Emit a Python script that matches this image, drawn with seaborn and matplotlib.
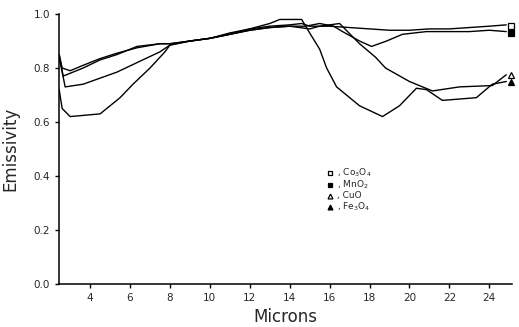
import numpy as np
import pandas as pd
import matplotlib
matplotlib.use("Agg")
import matplotlib.pyplot as plt
import seaborn as sns

# ---- data ----
co_x = [2.45, 2.6, 3.0, 3.65, 4.5, 5.35, 6.35, 7.5, 8, 9, 10, 11, 12, 13, 14, 14.6, 15, 16, 17, 18, 19, 20, 21, 22, 23, 24, 24.85]
co_y = [0.85, 0.80, 0.79, 0.81, 0.835, 0.855, 0.875, 0.89, 0.89, 0.90, 0.91, 0.93, 0.945, 0.955, 0.96, 0.965, 0.955, 0.955, 0.95, 0.945, 0.94, 0.94, 0.945, 0.945, 0.95, 0.955, 0.96]

mn_x = [2.45, 2.65, 3.65, 4.5, 5.35, 6.35, 7.5, 8, 9, 10, 11, 12, 13, 14, 14.8, 15.5, 16.2, 16.65, 17.5, 18.1, 18.85, 19.65, 20.85, 22, 23, 24, 24.85]
mn_y = [0.85, 0.77, 0.80, 0.83, 0.85, 0.88, 0.89, 0.89, 0.90, 0.91, 0.925, 0.94, 0.95, 0.955, 0.955, 0.965, 0.955, 0.935, 0.90, 0.88, 0.90, 0.925, 0.935, 0.935, 0.935, 0.94, 0.935]

cu_x = [2.45, 2.75, 3.65, 5.35, 6.35, 7.5, 8, 9, 10, 11, 12, 13, 14, 15, 15.5, 16.5, 17.5, 18.3, 18.8, 20, 21.15, 22.5, 24.15, 24.85]
cu_y = [0.84, 0.73, 0.74, 0.785, 0.82, 0.86, 0.885, 0.90, 0.91, 0.925, 0.94, 0.95, 0.955, 0.945, 0.955, 0.965, 0.89, 0.84, 0.80, 0.75, 0.715, 0.73, 0.735, 0.775]

fe_x = [2.45, 2.6, 3.0, 4.5, 5.5, 6.15, 7.0, 7.75, 8, 9, 10, 11, 12, 13, 13.5, 14.6, 15, 15.5, 15.85, 16.35, 17.5, 18.65, 19.5, 20.35, 20.85, 21.65, 23.35, 24.15, 24.85]
fe_y = [0.72, 0.65, 0.62, 0.63, 0.69, 0.74, 0.80, 0.86, 0.885, 0.90, 0.91, 0.925, 0.945, 0.965, 0.98, 0.98, 0.93, 0.87, 0.80, 0.73, 0.66, 0.62, 0.66, 0.725, 0.72, 0.68, 0.69, 0.74, 0.75]

materials = ["Co3O4", "MnO2", "CuO", "Fe3O4"]
legend_labels = [", Co$_3$O$_4$", ", MnO$_2$", ", CuO", ", Fe$_3$O$_4$"]
end_values = [0.955, 0.93, 0.775, 0.75]

x_ticks = [4, 6, 8, 10, 12, 14, 16, 18, 20, 22, 24]
y_ticks = [0.0, 0.2, 0.4, 0.6, 0.8, 1.0]
y_tick_labels = ["0.0", "0.2", "0.4", "0.6", "0.8", "1.0"]

# ---- build table ----
frames = []
for name, xs, ys in zip(materials, [co_x, mn_x, cu_x, fe_x], [co_y, mn_y, cu_y, fe_y]):
    frames.append(pd.DataFrame({"Microns": xs, "Emissivity": ys, "Material": name}))
df = pd.concat(frames, ignore_index=True)

sns.set_style("ticks")
plt.rcParams["font.family"] = ["DejaVu Sans"]

fig = plt.figure(figsize=(5.19, 3.27), dpi=100)
ax = fig.add_axes([0.114, 0.132, 0.873, 0.825])

sns.lineplot(data=df, x="Microns", y="Emissivity", units="Material", estimator=None,
             sort=False, color="black", linewidth=1.0, ax=ax, legend=False)

markers = ["s", "s", "^", "^"]
facecols = ["white", "black", "white", "black"]
for m, fc, v in zip(markers, facecols, end_values):
    ax.plot([25.1], [v], marker=m, markersize=4, markerfacecolor=fc,
            markeredgecolor="black", markeredgewidth=0.9, linestyle="none", clip_on=False)

# legend (drawn as markers + text in axes coordinates)
leg_y = [0.41, 0.368, 0.326, 0.284]
for m, fc, lab, yy in zip(markers, facecols, legend_labels, leg_y):
    ax.plot([0.598], [yy], marker=m, markersize=3.5, markerfacecolor=fc,
            markeredgecolor="black", markeredgewidth=0.9, linestyle="none",
            transform=ax.transAxes, clip_on=False)
    ax.text(0.613, yy, lab, transform=ax.transAxes, fontsize=6.5, va="center", ha="left")

ax.set_xlim(2.45, 25.15)
ax.set_ylim(0, 1.0)
ax.set_xticks(x_ticks)
ax.set_yticks(y_ticks)
ax.set_yticklabels(y_tick_labels)
ax.tick_params(axis="both", labelsize=7.5, length=3, width=1, color="black")
for s in ["left", "bottom"]:
    ax.spines[s].set_linewidth(1.1)
    ax.spines[s].set_color("black")
sns.despine(ax=ax)

ax.set_xlabel("Microns", fontsize=12, labelpad=4)
ax.set_ylabel("Emissivity", fontsize=12, labelpad=10)

fig.savefig("out.png", dpi=100, facecolor="white")
